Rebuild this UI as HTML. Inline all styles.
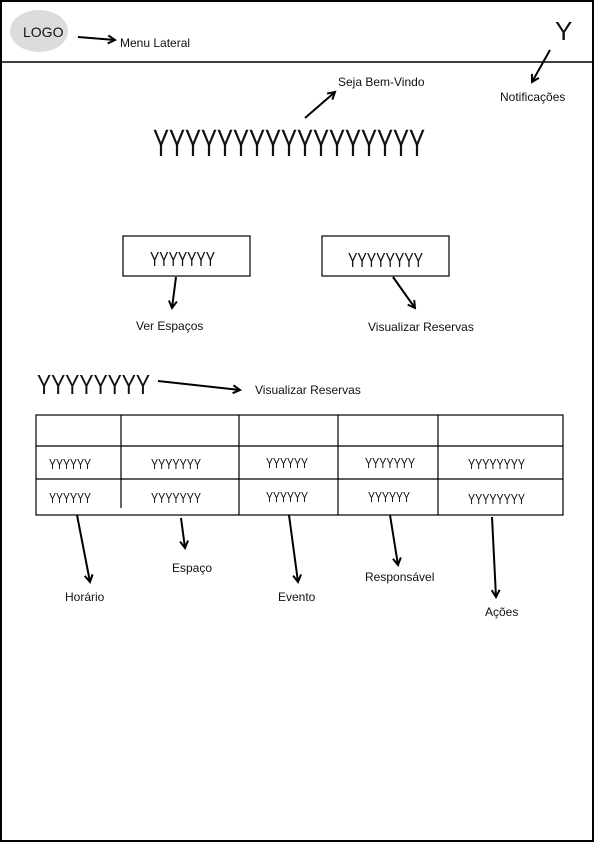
<!DOCTYPE html>
<html><head><meta charset="utf-8"><style>
html,body{margin:0;padding:0;background:#fff}
svg{display:block}
text{font-family:"Liberation Sans",sans-serif;fill:#111}
.l{font-size:12px}
.y{font-family:"Liberation Sans Narrow","Liberation Sans",sans-serif}
</style></head><body>
<svg width="595" height="842" viewBox="0 0 595 842" xmlns="http://www.w3.org/2000/svg">
<defs><marker id="a" markerWidth="10" markerHeight="10" refX="8" refY="5" orient="auto" markerUnits="userSpaceOnUse"><path d="M1,1 L8,5 L1,9" fill="none" stroke="#000" stroke-width="2"/></marker></defs>
<rect x="1" y="1" width="592" height="840" fill="none" stroke="#000" stroke-width="2"/>
<line x1="1" y1="62" x2="594" y2="62" stroke="#000" stroke-width="1.5"/>
<ellipse cx="39" cy="31" rx="29" ry="21" fill="#dcdcdc"/>
<text x="23" y="37" font-size="14">LOGO</text>
<g stroke="#000" stroke-width="2" fill="none" marker-end="url(#a)">
<line x1="78" y1="37" x2="115" y2="40"/>
<line x1="550" y1="50" x2="532" y2="82"/>
<line x1="305" y1="118" x2="335" y2="92"/>
<line x1="176" y1="277" x2="172" y2="308"/>
<line x1="393" y1="277" x2="415" y2="308"/>
<line x1="158" y1="381" x2="240" y2="390"/>
<line x1="77" y1="515" x2="90" y2="582"/>
<line x1="181" y1="518" x2="185" y2="548"/>
<line x1="289" y1="515" x2="298" y2="582"/>
<line x1="390" y1="515" x2="398" y2="565"/>
<line x1="492" y1="517" x2="496" y2="597"/>
</g>
<text class="l" x="120" y="47">Menu Lateral</text>
<text class="y" x="555" y="40" font-size="26">Y</text>
<text class="l" x="500" y="101">Notificações</text>
<text class="l" x="338" y="86">Seja Bem-Vindo</text>
<text class="y" x="153" y="156" font-size="38" textLength="272" lengthAdjust="spacingAndGlyphs">YYYYYYYYYYYYYYYYY</text>
<rect x="123" y="236" width="127" height="40" fill="none" stroke="#000" stroke-width="1.2"/>
<rect x="322" y="236" width="127" height="40" fill="none" stroke="#000" stroke-width="1.2"/>
<text class="y" x="150" y="266" font-size="20" textLength="65" lengthAdjust="spacingAndGlyphs">YYYYYYY</text>
<text class="y" x="348" y="267" font-size="20" textLength="75" lengthAdjust="spacingAndGlyphs">YYYYYYYY</text>
<text class="l" x="136" y="330">Ver Espaços</text>
<text class="l" x="368" y="331">Visualizar Reservas</text>
<text class="y" x="37" y="394" font-size="28" textLength="113" lengthAdjust="spacingAndGlyphs">YYYYYYYY</text>
<text class="l" x="255" y="394">Visualizar Reservas</text>
<g stroke="#000" stroke-width="1.2" fill="none">
<rect x="36" y="415" width="527" height="100"/>
<line x1="36" y1="446" x2="563" y2="446"/>
<line x1="36" y1="479" x2="563" y2="479"/>
<line x1="121" y1="415" x2="121" y2="508"/>
<line x1="239" y1="415" x2="239" y2="515"/>
<line x1="338" y1="415" x2="338" y2="515"/>
<line x1="438" y1="415" x2="438" y2="515"/>
</g>
<g class="y" font-size="15">
<text x="49" y="469" textLength="42" lengthAdjust="spacingAndGlyphs">YYYYYY</text>
<text x="151" y="469" textLength="50" lengthAdjust="spacingAndGlyphs">YYYYYYY</text>
<text x="266" y="468" textLength="42" lengthAdjust="spacingAndGlyphs">YYYYYY</text>
<text x="365" y="468" textLength="50" lengthAdjust="spacingAndGlyphs">YYYYYYY</text>
<text x="468" y="469" textLength="57" lengthAdjust="spacingAndGlyphs">YYYYYYYY</text>
<text x="49" y="503" textLength="42" lengthAdjust="spacingAndGlyphs">YYYYYY</text>
<text x="151" y="503" textLength="50" lengthAdjust="spacingAndGlyphs">YYYYYYY</text>
<text x="266" y="502" textLength="42" lengthAdjust="spacingAndGlyphs">YYYYYY</text>
<text x="368" y="502" textLength="42" lengthAdjust="spacingAndGlyphs">YYYYYY</text>
<text x="468" y="504" textLength="57" lengthAdjust="spacingAndGlyphs">YYYYYYYY</text>
</g>
<text class="l" x="65" y="601">Horário</text>
<text class="l" x="172" y="572">Espaço</text>
<text class="l" x="278" y="601">Evento</text>
<text class="l" x="365" y="581">Responsável</text>
<text class="l" x="485" y="616">Ações</text>
</svg>
</body></html>
